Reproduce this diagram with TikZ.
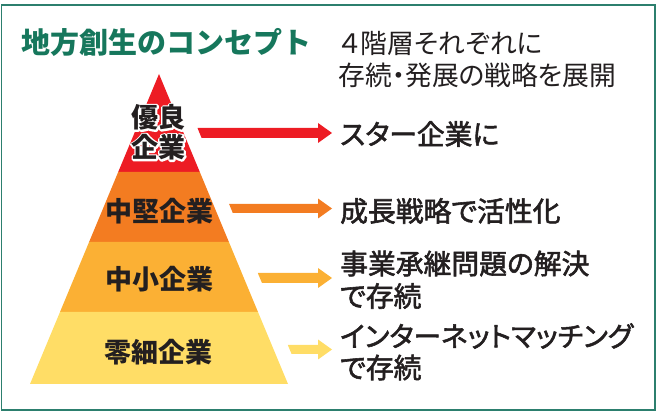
\documentclass[tikz,border=0pt]{standalone}
\usepackage{fontspec}
\newfontfamily\jp{Noto Sans CJK JP}
\newfontfamily\jpp[RawFeature=+palt]{Noto Sans CJK JP}
\newfontfamily\jpm[FakeBold=2,RawFeature=+palt]{Noto Sans CJK JP}
\definecolor{framecol}{HTML}{2C7F6E}
\definecolor{titlecol}{HTML}{16775C}
\definecolor{txt}{HTML}{231F20}
\definecolor{c1}{HTML}{ED1C24}
\definecolor{c2}{HTML}{F37C21}
\definecolor{c3}{HTML}{FBB034}
\definecolor{c4}{HTML}{FFDD66}
\tikzset{
  titletext/.style={inner sep=0pt, anchor=west, font=\jp\bfseries\fontsize{29}{31}\selectfont, text=titlecol},
  subtext/.style={inner sep=0pt, anchor=west, font=\jpp\fontsize{26.8}{28}\selectfont, text=txt},
  pyrtext/.style={inner sep=0pt, font=\jp\bfseries\fontsize{27}{29}\selectfont, text=txt},
  halo/.style={inner sep=0pt, font=\jp\bfseries\fontsize{27}{29}\selectfont, text=white},
  righttext/.style={inner sep=0pt, anchor=west, font=\jpm\fontsize{27.8}{29}\selectfont, text=txt},
}
\newcommand{\strokeon}{\special{pdf:literal direct 1 Tr 3.4 w 1 J 1 j 1 1 1 RG}}
\newcommand{\strokeoff}{\special{pdf:literal direct 0 Tr}}
\newcommand{\halonode}[3]{%
  \node[halo] at (#2) {\strokeon#3\strokeoff};
  \node[pyrtext] (#1) at (#2) {#3};
}
\begin{document}
\begin{tikzpicture}[x=1pt,y=-1pt]
\useasboundingbox (0,0) rectangle (656,419);
\draw[framecol, line width=1.5pt] (1.5,5) rectangle (654.8,410);

% title
\node[titletext] (title) at (21,42) {地方創生のコンセプト};
\node[subtext] (sub1) at (340,43) {４階層それぞれに};
\node[subtext] (sub2) at (338,75) {存続・発展の戦略を展開};

% pyramid
\coordinate (apex) at (159,74);
\fill[c1] (apex) -- (199.8,172) -- (118.2,172) -- cycle;
\fill[c2] (118.2,172) -- (199.8,172) -- (228.9,242) -- (89.1,242) -- cycle;
\fill[c3] (89.1,242) -- (228.9,242) -- (258.0,312) -- (60.0,312) -- cycle;
\fill[c4] (60.0,312) -- (258.0,312) -- (288,384) -- (30,384) -- cycle;

% labels
\coordinate (l1a) at (158.5,117.5);
\coordinate (l1b) at (158.5,147.5);
\halonode{lab1a}{l1a}{優良}
\halonode{lab1b}{l1b}{企業}
\node[pyrtext] (lab2) at (159,211) {中堅企業};
\node[pyrtext] (lab3) at (159,279.5) {中小企業};
\node[pyrtext] (lab4) at (158,352) {零細企業};

% arrows
\fill[c1] (197.5,128) -- (318,128) -- (318,123) -- (332,133) -- (318,143) -- (318,138) -- (201.6,138) -- cycle;
\fill[c2] (229.1,204) -- (318,204) -- (318,198.5) -- (332,208.5) -- (318,218.5) -- (318,213) -- (232.8,213) -- cycle;
\fill[c3] (257.8,273) -- (318,273) -- (318,268) -- (332,278) -- (318,288) -- (318,283) -- (262.0,283) -- cycle;
\fill[c4] (287.8,345) -- (318,345) -- (318,339.5) -- (332,349.5) -- (318,359.5) -- (318,354) -- (291.6,354) -- cycle;

% right texts
\node[righttext] (r1) at (340,134) {スター企業に};
\node[righttext] (r2) at (340,211) {成長戦略で活性化};
\node[righttext] (r3a) at (340,263.5) {事業承継問題の解決};
\node[righttext] (r3b) at (340,296) {で存続};
\node[righttext] (r4a) at (340,336) {インターネットマッチング};
\node[righttext] (r4b) at (340,367.5) {で存続};
\end{tikzpicture}
\end{document}
